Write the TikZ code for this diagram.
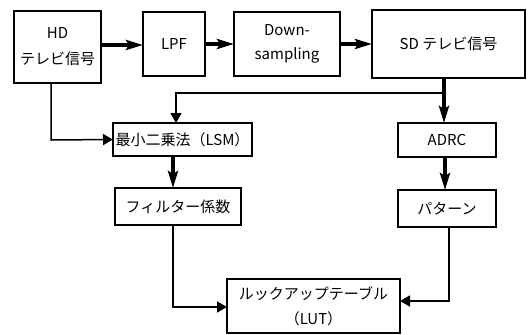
\documentclass[tikz,border=0pt]{standalone}
\usepackage{fontspec}
\setmainfont{Noto Sans CJK JP}
\usepackage{tikz}
\usetikzlibrary{arrows.meta}
\usetikzlibrary{calc,positioning}

\begin{document}
\begin{tikzpicture}[x=1pt,y=-1pt]
\tikzstyle{block}=[draw,outer sep=0pt,line width=1.6pt,inner sep=0pt,font=\fontsize{15}{17}\selectfont,align=center]
\tikzstyle{fat}=[line width=4.5pt,-{Stealth[length=17pt,width=10pt,inset=3pt]}]
\tikzstyle{slim}=[line width=1.5pt,-{Triangle[length=10pt,width=11pt]}]

\useasboundingbox (0,0) rectangle (528,335);

\node (HD) [block,minimum width=87pt,minimum height=72pt] at (57.5,47) {HD\\[9pt]テレビ信号};
\node (LPF) [block,minimum width=62pt,minimum height=64pt] at (174,44) {LPF};
\node (Down) [block,minimum width=106pt,minimum height=64pt] at (287,44) {Down-\\[7pt]sampling};
\node (SD) [block,minimum width=153pt,minimum height=68pt] at (448.5,44) {SD テレビ信号};

\node (LSM) [block,minimum width=139pt,minimum height=33pt] at (182.5,139.5) {最小二乗法（LSM）};
\node (Filter) [block,minimum width=126pt,minimum height=37pt] at (178,206.5) {フィルター係数};
\node (ADRC) [block,minimum width=98pt,minimum height=34pt] at (447,140) {ADRC};
\node (Pattern) [block,minimum width=98pt,minimum height=37pt] at (447,208.5) {パターン};
\node (LUT) [block,minimum width=173pt,minimum height=54pt] at (313.5,306) {ルックアップテーブル\\[8pt]（LUT）};

% top row
\draw [fat] (HD.east |- 0,45) -- (LPF.west |- 0,45);
\draw [fat] (LPF.east) -- (Down.west);
\draw [fat,line width=3.5pt] (Down.east) -- (SD.west);

% SD branch
\coordinate (split) at ($(SD.south)+(-4.5,15)$);
\draw [fat] (SD.south -| split) -- (ADRC.north -| split);
\draw [slim] (split) -- (176,93) -- (LSM.north -| 176,0);

% HD to LSM
\draw [slim] (HD.south -| 51,0) -- (51,140) -- (LSM.west);

\draw [fat] (LSM.south -| 173,0) -- (Filter.north -| 173,0);
\draw [fat] (ADRC.south -| 445,0) -- (Pattern.north -| 445,0);

% into the table
\draw [slim] (Filter.south -| 173,0) -- (173,307) -- (LUT.west |- 0,307);
\draw [slim] (Pattern.south -| 449,0) -- (449,301) -- (LUT.east |- 0,301);

\end{tikzpicture}
\end{document}
